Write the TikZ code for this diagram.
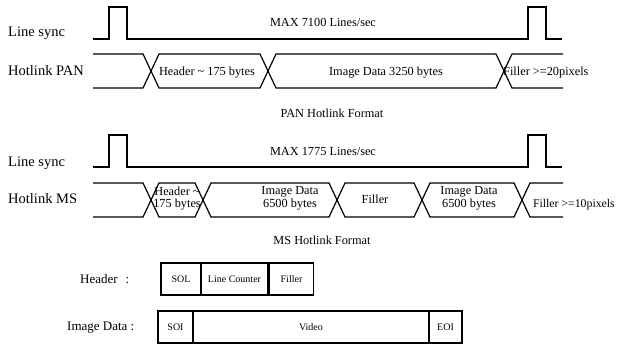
\documentclass[tikz,border=0pt]{standalone}
\usepackage{fontspec}
\setmainfont{Liberation Serif}
\usetikzlibrary{positioning}

\begin{document}
\begin{tikzpicture}[
    x=1pt, y=-1pt,
    sig/.style={line width=1.2pt, line join=miter},
    lbl/.style={inner sep=0pt, font=\fontsize{14.5}{16}\selectfont},
    captxt/.style={inner sep=0pt, font=\fontsize{12.3}{14}\selectfont},
    bus/.style={inner sep=0pt, align=center, font=\fontsize{12.3}{12.5}\selectfont},
    fld/.style={draw, line width=1.2pt, inner sep=0pt, outer sep=0pt,
                minimum height=32pt, font=\fontsize{10}{12}\selectfont}
  ]
  \useasboundingbox (0,0) rectangle (617,345);

  % PAN: Line sync
  \node[lbl, anchor=base west] (syncA) at (8,37) {Line sync};
  \draw[sig] (93,39) -- (109,39) -- (109,7) -- (127,7) -- (127,39)
    -- (528,39) -- (528,7) -- (546,7) -- (546,39) -- (562,39);
  \node[captxt, anchor=base] (rateA) at (323,27) {MAX 7100 Lines/sec};

  % PAN: Datenstrom
  \node[lbl, anchor=base west] (panL) at (8,75) {Hotlink PAN};
  \draw[sig] (93,54) -- (143,54) -- (151,71) -- (143,88) -- (93,88);
  \foreach \a/\b in {151/268, 268/504}
    \draw[sig] (\a,71) -- (\a+8,54) -- (\b-8,54) -- (\b,71) -- (\b-8,88) -- (\a+8,88) -- cycle;
  \draw[sig] (563,54) -- (512,54) -- (504,71) -- (512,88) -- (563,88);
  \node[captxt, anchor=base] (panH) at (207,75) {Header \textasciitilde{} 175 bytes};
  \node[captxt, anchor=base] (panI) at (386,75) {Image Data 3250 bytes};
  \node[captxt, anchor=base west] (panF) at (503,75) {Filler >=20pixels};
  \node[captxt, anchor=base] (panT) at (332,117) {PAN Hotlink Format};

  % MS: Line sync
  \node[lbl, anchor=base west] (syncB) at (8,166) {Line sync};
  \draw[sig] (93,167) -- (109,167) -- (109,135) -- (127,135) -- (127,167)
    -- (528,167) -- (528,135) -- (546,135) -- (546,167) -- (562,167);
  \node[captxt, anchor=base] (rateB) at (323,155) {MAX 1775 Lines/sec};

  % MS: Datenstrom
  \node[lbl, anchor=base west] (msL) at (8,203) {Hotlink MS};
  \draw[sig] (93,183) -- (143,183) -- (151,200) -- (143,217) -- (93,217);
  \foreach \a/\b in {151/203, 203/337, 337/422, 422/522}
    \draw[sig] (\a,200) -- (\a+8,183) -- (\b-8,183) -- (\b,200) -- (\b-8,217) -- (\a+8,217) -- cycle;
  \draw[sig] (563,183) -- (530,183) -- (522,200) -- (530,217) -- (563,217);
  \node[bus] (msH) at (177,198.5) {Header \textasciitilde\\175 bytes};
  \node[bus] (msI1) at (290,198.5) {Image Data\\6500 bytes};
  \node[captxt, anchor=base] (msF) at (375,203) {Filler};
  \node[bus] (msI2) at (469,198.5) {Image Data\\6500 bytes};
  \node[captxt, font=\fontsize{11.8}{14}\selectfont, anchor=base east] (msE) at (615,207) {Filler >=10pixels};
  \node[captxt, anchor=base] (msT) at (322,244) {MS Hotlink Format};

  % Aufbau Header
  \node[lbl, font=\fontsize{13}{15}\selectfont, anchor=west] (hdrL) at (80,279) {Header\hspace{0.6em}:};
  \node[fld, minimum width=40pt, anchor=west] (sol) at (161,279) {SOL};
  \node[fld, minimum width=67pt, right=0pt of sol] (cnt) {Line Counter};
  \node[fld, minimum width=44pt, right=1.5pt of cnt] (fil) {Filler};

  % Aufbau Image Data
  \node[lbl, font=\fontsize{13}{15}\selectfont, anchor=west] (imgL) at (67,328) {Image Data :};
  \node[fld, minimum width=35pt, anchor=west] (soi) at (158,327) {SOI};
  \node[fld, minimum width=236pt, right=0pt of soi] (vid) {Video};
  \node[fld, minimum width=33pt, right=0pt of vid] (eoi) {EOI};
\end{tikzpicture}
\end{document}
